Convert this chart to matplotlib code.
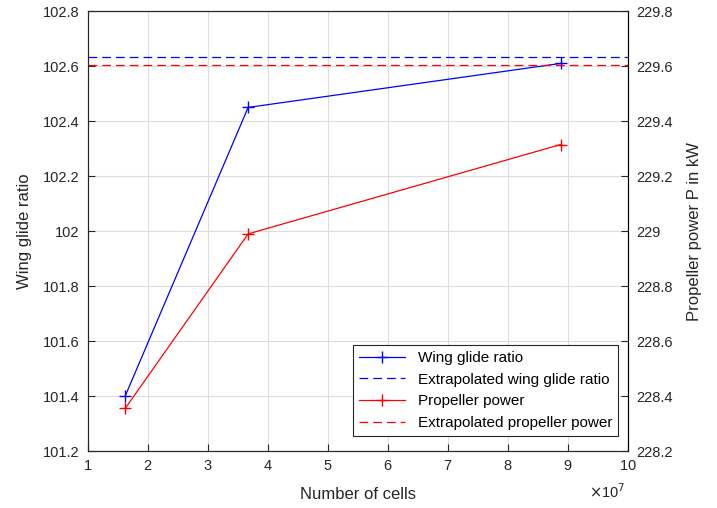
import matplotlib.pyplot as plt
from matplotlib.ticker import ScalarFormatter, FuncFormatter
import numpy as np

plt.rcParams['font.family'] = ['Liberation Sans', 'DejaVu Sans']

cells = [1.62e7, 3.67e7, 8.88e7]
glide_ratio = [101.40, 102.45, 102.61]
prop_power = [228.355, 228.99, 229.315]
glide_extrap = 102.632
power_extrap = 229.603

fig = plt.figure(figsize=(7.17, 5.08), dpi=100)
ax1 = fig.add_axes([0.1227, 0.112, 0.753, 0.866])
ax2 = ax1.twinx()

l1, = ax1.plot(cells, glide_ratio, color='blue', marker='+', markersize=9, lw=0.9, label='Wing glide ratio')
l2 = ax1.axhline(glide_extrap, color='blue', ls=(0, (7, 4)), lw=0.9, label='Extrapolated wing glide ratio')
l3, = ax2.plot(cells, prop_power, color='red', marker='+', markersize=9, lw=0.9, label='Propeller power')
l4 = ax2.axhline(power_extrap, color='red', ls=(0, (7, 4)), lw=0.9, label='Extrapolated propeller power')

ax1.set_xlim(1e7, 10e7)
ax1.set_ylim(101.2, 102.8)
ax2.set_ylim(228.2, 229.8)
ax1.set_xticks(np.arange(1, 11) * 1e7)
ax1.set_yticks(np.arange(101.2, 102.81, 0.2))
ax2.set_yticks(np.arange(228.2, 229.81, 0.2))

fmt = FuncFormatter(lambda v, p: '%g' % round(v, 1))
ax1.yaxis.set_major_formatter(fmt)
ax2.yaxis.set_major_formatter(fmt)
sf = ScalarFormatter(useMathText=True)
sf.set_powerlimits((7, 7))
ax1.xaxis.set_major_formatter(sf)
ax1.xaxis.get_offset_text().set_visible(False)
fig.text(0.847, 0.032, r'$\times$10$^7$', fontsize=10.5, color='#262626', ha='center', va='center')

ax1.grid(True, color='#dcdcdc', lw=0.8)
ax1.set_axisbelow(True)
for ax in (ax1, ax2):
    ax.tick_params(direction='in', labelsize=10.5, length=5, pad=6, color='#262626', labelcolor='#262626')
    for s in ax.spines.values():
        s.set_color('#262626')
        s.set_linewidth(0.8)
ax2.spines['right'].set_color('black')

ax1.set_xlabel('Number of cells', fontsize=12, color='#262626', labelpad=10)
ax1.set_ylabel('Wing glide ratio', fontsize=12, color='#262626', labelpad=8)
ax2.set_ylabel('Propeller power P in kW', fontsize=12, color='#262626', labelpad=10)

leg = ax2.legend(handles=[l1, l2, l3, l4], loc='lower right', bbox_to_anchor=(0.982, 0.034),
                 borderaxespad=0, fontsize=11, fancybox=False, edgecolor='#262626', framealpha=1,
                 handlelength=3.0, borderpad=0.4, labelspacing=0.5)
leg.get_frame().set_linewidth(0.8)

fig.savefig('out.png', dpi=100)
